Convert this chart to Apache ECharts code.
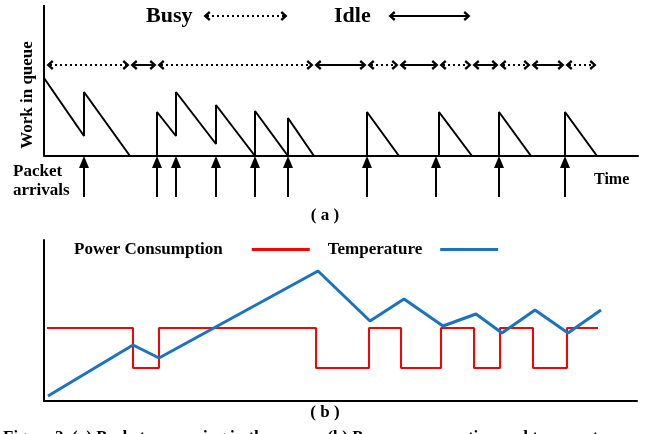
<!DOCTYPE html>
<html>
<head>
<meta charset="utf-8">
<script src="https://cdn.jsdelivr.net/npm/echarts@6/dist/echarts.min.js"></script>
<style>
html, body { margin: 0; padding: 0; background: #fff; }
#main { width: 650px; height: 434px; }
</style>
</head>
<body>
<div id="main"></div>
<script>
// (a) work in queue: corners of the sawtooth (time, work)
var queueT = [0, 40, 40, 86, 113, 113, 132, 132, 172, 172, 211, 211, 244, 244, 270, 323, 323, 355, 395, 395, 428, 455, 455, 487, 521, 521, 553];
var queueW = [78, 20, 64, 0, 0, 44, 20, 64, 12, 51, 0, 45, 0, 38, 0, 0, 44, 0, 0, 44, 0, 0, 44, 0, 0, 44, 0];
// packet arrival times
var arrivals = [40, 113, 132, 172, 211, 244, 323, 392, 455, 521];
// busy / idle periods
var periodEdges = [2, 86, 113, 270, 323, 355, 395, 428, 455, 487, 521, 553];
var periodBusy = [true, false, true, false, true, false, true, false, true, false, true];

// (b) power consumption (step) and temperature
var powerT = [3, 89, 115, 272, 325, 357, 397, 430, 456, 489, 523, 554];
var powerLevel = [73, 33, 73, 33, 73, 33, 73, 33, 73, 33, 73];
var tempT = [4, 89, 115, 274, 326, 360, 399, 432, 458, 491, 524, 557];
var tempV = [5, 56, 43, 130, 80, 102, 75, 87, 68, 91, 68, 91];

var FONT = "'Liberation Serif', 'Times New Roman', serif";
var chevron = 'path://M5,0 L10,6 L8,7.6 L5,3.6 L2,7.6 L0,6 Z';

var myChart = echarts.init(document.getElementById('main'));

var queueData = queueT.map(function (t, i) { return [t, queueW[i]]; });

var powerData = [];
for (var i = 0; i < powerLevel.length; i++) {
    powerData.push([powerT[i], powerLevel[i]]);
}
powerData.push([powerT[powerT.length - 1], powerLevel[powerLevel.length - 1]]);

var tempData = tempT.map(function (t, i) { return [t, tempV[i]]; });

var periodRow = 91;
var inset = 4;
var periodLines = [];
for (var i = 0; i < periodBusy.length; i++) {
    periodLines.push([
        { coord: [periodEdges[i] + inset, periodRow], lineStyle: { type: periodBusy[i] ? [2, 3] : 'solid' } },
        { coord: [periodEdges[i + 1] - inset, periodRow] }
    ]);
}
// key arrows beside "Busy" and "Idle"
periodLines.push([
    { coord: [159 + inset, 140], lineStyle: { type: [2, 3] } },
    { coord: [244 - inset, 140] }
]);
periodLines.push([
    { coord: [344 + inset, 140], lineStyle: { type: 'solid' } },
    { coord: [427 - inset, 140] }
]);

var arrowLines = arrivals.map(function (t) {
    return [{ coord: [t, -41] }, { coord: [t, -6] }];
});

option = {
    animation: false,
    grid: [
        { left: 44, top: 5, width: 594, height: 195 },
        { left: 44, top: 240, width: 593, height: 161 }
    ],
    xAxis: [
        {
            gridIndex: 0, type: 'value', min: 0, max: 594,
            axisLine: { onZero: true, lineStyle: { color: '#000', width: 2 } },
            axisTick: { show: false }, axisLabel: { show: false }, splitLine: { show: false }
        },
        {
            gridIndex: 1, type: 'value', min: 0, max: 593,
            axisLine: { lineStyle: { color: '#000', width: 2 } },
            axisTick: { show: false }, axisLabel: { show: false }, splitLine: { show: false }
        }
    ],
    yAxis: [
        {
            gridIndex: 0, type: 'value', min: -44, max: 151,
            axisLine: { show: false },
            axisTick: { show: false }, axisLabel: { show: false }, splitLine: { show: false }
        },
        {
            gridIndex: 1, type: 'value', min: 0, max: 161,
            axisLine: { show: true, lineStyle: { color: '#000', width: 2 } },
            axisTick: { show: false }, axisLabel: { show: false }, splitLine: { show: false }
        }
    ],
    legend: {
        data: [
            { name: 'Power Consumption', textStyle: { padding: [0, 24, 0, 0] } },
            { name: 'Temperature', textStyle: { padding: [0, 13, 0, 0] } }
        ],
        left: 74,
        top: 241,
        padding: 0,
        align: 'right',
        icon: 'rect',
        itemWidth: 58,
        itemHeight: 3,
        itemGap: 18,
        selectedMode: false,
        textStyle: {
            fontFamily: FONT, fontWeight: 'bold', fontSize: 17, color: '#000'
        }
    },
    graphic: [
        { type: 'text', x: 146, y: 16, style: { text: 'Busy', font: 'bold 22px ' + FONT, fill: '#000', textVerticalAlign: 'middle' } },
        { type: 'text', x: 334, y: 16, style: { text: 'Idle', font: 'bold 22px ' + FONT, fill: '#000', textVerticalAlign: 'middle' } },
        { type: 'text', x: 28, y: 95, rotation: Math.PI / 2, style: { text: 'Work in queue', font: 'bold 17px ' + FONT, fill: '#000', textAlign: 'center', textVerticalAlign: 'middle' } },
        { type: 'text', x: 13, y: 172, style: { text: 'Packet', font: 'bold 17px ' + FONT, fill: '#000', textVerticalAlign: 'middle' } },
        { type: 'text', x: 13, y: 191, style: { text: 'arrivals', font: 'bold 17px ' + FONT, fill: '#000', textVerticalAlign: 'middle' } },
        { type: 'text', x: 594, y: 180, style: { text: 'Time', font: 'bold 16px ' + FONT, fill: '#000', textVerticalAlign: 'middle' } },
        { type: 'text', x: 325, y: 216, style: { text: '( a )', font: 'bold 17px ' + FONT, fill: '#000', textAlign: 'center', textVerticalAlign: 'middle' } },
        { type: 'text', x: 325, y: 413, style: { text: '( b )', font: 'bold 17px ' + FONT, fill: '#000', textAlign: 'center', textVerticalAlign: 'middle' } },
        { type: 'text', x: 3, y: 429, style: { text: 'Figure 2. (a) Packet processing in the queue. (b) Power consumption and temperature', font: 'bold 17px ' + FONT, fill: '#000', textVerticalAlign: 'top' } }
    ],
    series: [
        {
            name: 'queue',
            type: 'line',
            xAxisIndex: 0, yAxisIndex: 0,
            data: queueData,
            symbol: 'none',
            clip: false,
            lineStyle: { color: '#000', width: 2 },
            markLine: {
                silent: true, animation: false,
                symbol: ['none', 'none'],
                label: { show: false },
                lineStyle: { color: '#000', width: 2, type: 'solid' },
                data: [[{ coord: [0, 0] }, { coord: [0, 151] }]]
            }
        },
        {
            name: 'arrivals',
            type: 'line',
            xAxisIndex: 0, yAxisIndex: 0,
            data: [],
            clip: false,
            markLine: {
                silent: true, animation: false,
                symbol: ['none', 'triangle'],
                symbolSize: [10, 12],
                label: { show: false },
                lineStyle: { color: '#000', width: 2, type: 'solid' },
                itemStyle: { color: '#000' },
                data: arrowLines
            }
        },
        {
            name: 'periods',
            type: 'line',
            xAxisIndex: 0, yAxisIndex: 0,
            data: [],
            clip: false,
            markLine: {
                silent: true, animation: false,
                symbol: [chevron, chevron],
                symbolSize: [10, 7],
                label: { show: false },
                lineStyle: { color: '#000', width: 2 },
                data: periodLines
            }
        },
        {
            name: 'Power Consumption',
            type: 'line',
            xAxisIndex: 1, yAxisIndex: 1,
            data: powerData,
            step: 'end',
            symbol: 'none',
            color: '#ff0000',
            lineStyle: { color: '#ff0000', width: 2 }
        },
        {
            name: 'Temperature',
            type: 'line',
            xAxisIndex: 1, yAxisIndex: 1,
            data: tempData,
            symbol: 'none',
            color: '#1a73c2',
            lineStyle: { color: '#1a73c2', width: 3 }
        }
    ]
};

if (option && typeof option === "object") {
    myChart.setOption(option, true);
}
</script>
</body>
</html>
